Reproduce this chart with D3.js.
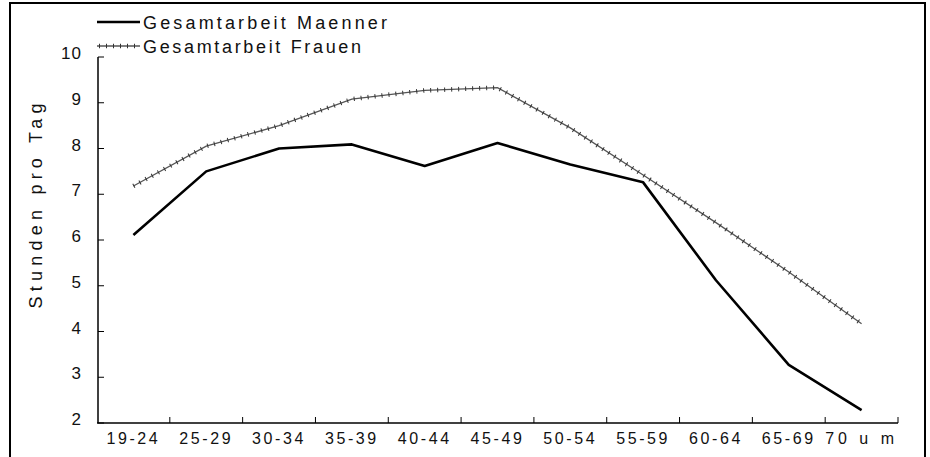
<!DOCTYPE html>
<html>
<head>
<meta charset="utf-8">
<script src="https://cdn.jsdelivr.net/npm/d3@7"></script>
<style>
  body { margin: 0; background: #fff; }
  text { font-family: "Liberation Sans", Arial, sans-serif; fill: #111; }
</style>
</head>
<body>
<svg width="930" height="457"></svg>
<script>
// age groups and hours per day
const ageGroups = ['19-24', '25-29', '30-34', '35-39', '40-44', '45-49', '50-54', '55-59', '60-64', '65-69', '70 u m']
const maenner = [6.11, 7.5, 8.0, 8.09, 7.62, 8.12, 7.65, 7.26, 5.12, 3.27, 2.28]
const frauen = [7.18, 8.05, 8.5, 9.08, 9.27, 9.33, 8.45, 7.42, 6.38, 5.3, 4.17]
const yTicks = [2, 3, 4, 5, 6, 7, 8, 9, 10]
const seriesNames = ['Gesamtarbeit Maenner', 'Gesamtarbeit Frauen']

let svg = d3.select('svg'),
    margin = {top: 57, bottom: 34, left: 98, right: 32}
    width = svg.attr('width') - margin.left - margin.right
    height = svg.attr('height') - margin.top - margin.bottom

let xScale = d3.scaleBand().domain(ageGroups).range([margin.left - 1, margin.left + width]),
    yScale = d3.scaleLinear().domain([2, 10]).range([height + margin.top, margin.top])

// outer frame
svg.append('rect')
    .attr('x', 10).attr('y', 3).attr('width', 915).attr('height', 460)
    .attr('fill', 'none').attr('stroke', '#000').attr('stroke-width', 2)

// x axis: ticks on band boundaries, pointing up
let xAxis = svg.append('g')
    .attr('transform', 'translate(0,' + (height + margin.top) + ')')
xAxis.append('line')
    .attr('x1', xScale.range()[0]).attr('x2', xScale.range()[1])
    .attr('stroke', '#000').attr('stroke-width', 1.5)
xAxis.selectAll('.tk')
    .data(ageGroups)
    .enter().append('line')
    .attr('x1', d => xScale(d) + xScale.bandwidth())
    .attr('x2', d => xScale(d) + xScale.bandwidth())
    .attr('y1', 0).attr('y2', -6)
    .attr('stroke', '#000')
xAxis.selectAll('text')
    .data(ageGroups)
    .enter().append('text')
    .attr('x', d => xScale(d) + xScale.bandwidth() / 2)
    .attr('y', 21)
    .attr('text-anchor', 'middle')
    .attr('font-size', 16)
    .attr('letter-spacing', d => d === '70 u m' ? 4 : 2.6)
    .text(d => d)

// y axis: ticks pointing right
let yAxis = svg.append('g')
    .attr('transform', 'translate(' + margin.left + ',0)')
yAxis.append('line')
    .attr('y1', yScale(2)).attr('y2', yScale(10))
    .attr('stroke', '#000').attr('stroke-width', 1.5)
yAxis.selectAll('.tk')
    .data(yTicks)
    .enter().append('line')
    .attr('y1', d => yScale(d)).attr('y2', d => yScale(d))
    .attr('x1', 0).attr('x2', 6)
    .attr('stroke', '#000')
yAxis.selectAll('text')
    .data(yTicks)
    .enter().append('text')
    .attr('x', -16)
    .attr('y', d => yScale(d) + 2)
    .attr('text-anchor', 'end')
    .attr('font-size', 17)
    .attr('letter-spacing', 1)
    .text(d => d)

svg.append('text')
    .attr('transform', 'translate(42,' + 206 + ') rotate(-90)')
    .attr('text-anchor', 'middle')
    .attr('font-size', 18)
    .attr('textLength', 205)
    .attr('lengthAdjust', 'spacing')
    .text('Stunden pro Tag')

let line = d3.line()
    .x((d, i) => xScale(ageGroups[i]) + xScale.bandwidth() / 2)
    .y(d => yScale(d))

// Frauen: thin grey line with small cross ticks
svg.append('path')
    .datum(frauen)
    .attr('d', line)
    .attr('fill', 'none').attr('stroke', '#555').attr('stroke-width', 1.3)
svg.append('path')
    .datum(frauen)
    .attr('d', line)
    .attr('fill', 'none').attr('stroke', '#333').attr('stroke-width', 4.5)
    .attr('stroke-dasharray', '1,6')

// Maenner: thick black line
svg.append('path')
    .datum(maenner)
    .attr('d', line)
    .attr('fill', 'none').attr('stroke', '#000').attr('stroke-width', 2.6)
    .attr('stroke-linejoin', 'round')

// legend
let legend = svg.append('g')
legend.append('line')
    .attr('x1', 97).attr('x2', 140).attr('y1', 22).attr('y2', 22)
    .attr('stroke', '#000').attr('stroke-width', 2.6)
legend.append('line')
    .attr('x1', 97).attr('x2', 140).attr('y1', 46).attr('y2', 46)
    .attr('stroke', '#555').attr('stroke-width', 1.3)
legend.append('line')
    .attr('x1', 99).attr('x2', 140).attr('y1', 46).attr('y2', 46)
    .attr('stroke', '#333').attr('stroke-width', 4.5)
    .attr('stroke-dasharray', '1,6')
legend.selectAll('text')
    .data(seriesNames)
    .enter().append('text')
    .attr('x', 143)
    .attr('y', (d, i) => 29 + i * 24)
    .attr('font-size', 18)
    .attr('textLength', (d, i) => i === 0 ? 244 : 218)
    .attr('lengthAdjust', 'spacing')
    .text(d => d)
</script>
</body>
</html>
